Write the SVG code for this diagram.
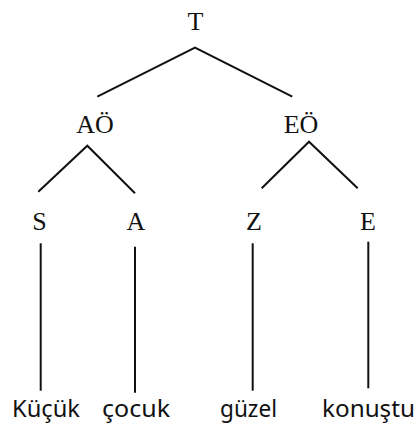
<svg xmlns="http://www.w3.org/2000/svg" width="415" height="426" viewBox="0 0 415 426">
<style>
.lbl{font-family:"Liberation Serif","Times New Roman",serif;font-size:26px;fill:#111;text-anchor:middle}
.word{font-family:"Noto Sans","Open Sans",sans-serif;font-size:23.5px;fill:#111}
.edge{stroke:#111;stroke-width:2;fill:none;stroke-linecap:butt}
</style>
<rect width="415" height="426" fill="#fff"/>
<g id="connectors">
<polyline class="edge" points="97.3,96.7 195,47.7 292.3,96.7"/>
<polyline class="edge" points="38.3,191.7 87.3,145.7 135,193.3"/>
<polyline class="edge" points="261.7,188.3 309,141.7 357.7,188.3"/>
<line class="edge" x1="40.7" y1="243.3" x2="40.7" y2="390.7"/>
<line class="edge" x1="135" y1="246.7" x2="135" y2="392.7"/>
<line class="edge" x1="252.7" y1="243.3" x2="252.7" y2="390.7"/>
<line class="edge" x1="368.3" y1="241.7" x2="368.3" y2="388.3"/>
</g>
<g id="node-T"><text class="lbl" x="195.5" y="30">T</text></g>
<g id="node-AO"><text class="lbl" x="95" y="133">AÖ</text></g>
<g id="node-EO"><text class="lbl" x="301" y="133">EÖ</text></g>
<g id="node-S"><text class="lbl" x="39.5" y="229.5">S</text></g>
<g id="node-A"><text class="lbl" x="136" y="229.5">A</text></g>
<g id="node-Z"><text class="lbl" x="254" y="229.5">Z</text></g>
<g id="node-E"><text class="lbl" x="368" y="229.5">E</text></g>
<g id="word-kucuk"><text class="word" x="12" y="417" textLength="68" lengthAdjust="spacingAndGlyphs">Küçük</text></g>
<g id="word-cocuk"><text class="word" x="102" y="417" textLength="68" lengthAdjust="spacingAndGlyphs">çocuk</text></g>
<g id="word-guzel"><text class="word" x="220" y="417" textLength="57" lengthAdjust="spacingAndGlyphs">güzel</text></g>
<g id="word-konustu"><text class="word" x="322" y="417" textLength="93" lengthAdjust="spacingAndGlyphs">konuştu</text></g>
</svg>
